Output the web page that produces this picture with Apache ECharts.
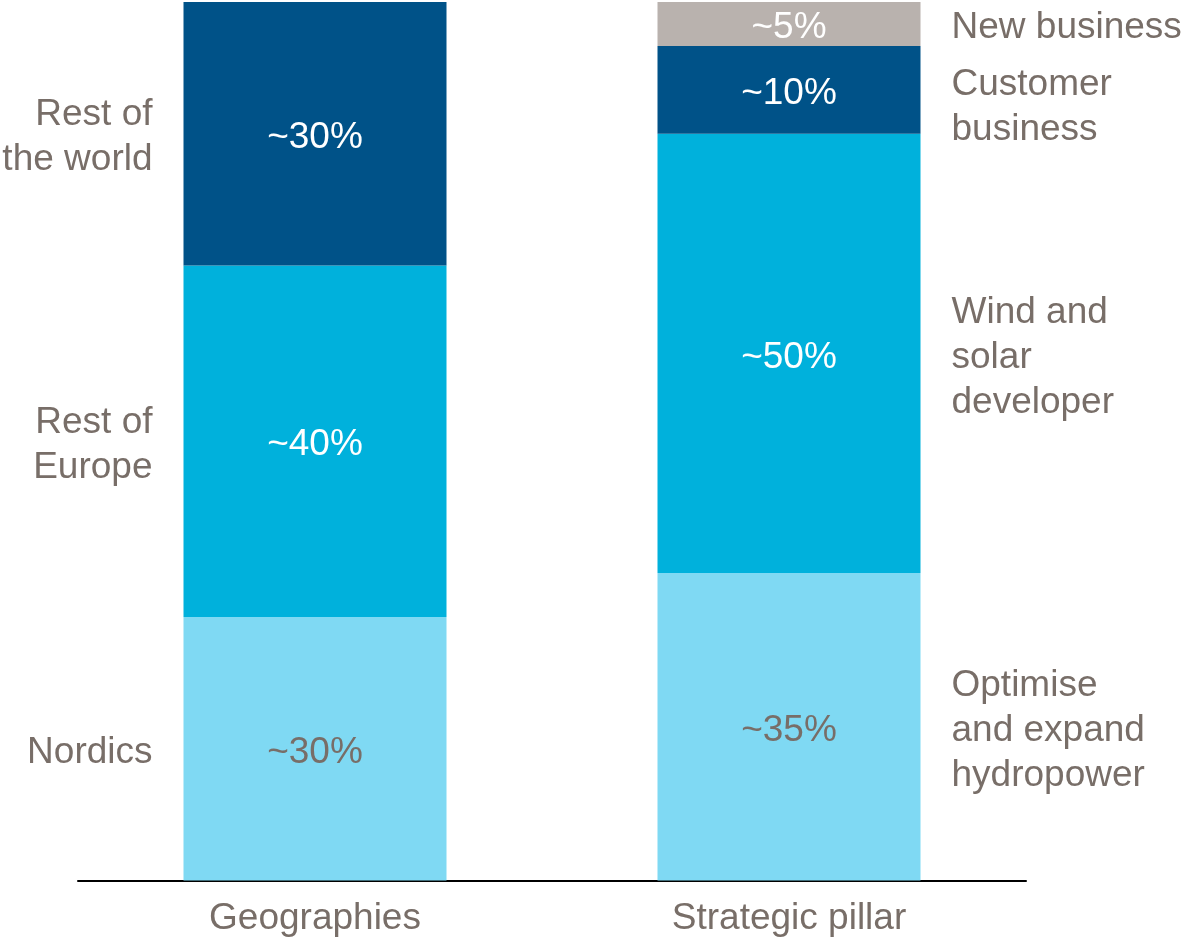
<!DOCTYPE html>
<html>
<head>
<meta charset="utf-8">
<script src="https://cdn.jsdelivr.net/npm/echarts@6/dist/echarts.min.js"></script>
<style>
  html, body { margin: 0; padding: 0; background: #ffffff; }
  #chart { width: 1184px; height: 937px; }
</style>
</head>
<body>
<div id="chart"></div>
<script>
// Two stacked 100% bars: geographic split and split by strategic pillar
const categories = ['Geographies', 'Strategic pillar'];

const geoNames = ['Nordics', 'Rest of\nEurope', 'Rest of\nthe world'];
const geoValues = [30, 40, 30];

const pillarNames = ['Optimise\nand expand\nhydropower', 'Wind and\nsolar\ndeveloper', 'Customer\nbusiness', 'New business'];
const pillarValues = [35, 50, 10, 5];

const lightBlue = '#7fd9f3';
const midBlue = '#00b1dc';
const darkBlue = '#005288';
const warmGrey = '#b9b2ae';
const textGrey = '#786e68';

const geoColors = [lightBlue, midBlue, darkBlue];
const geoLabelColors = [textGrey, '#ffffff', '#ffffff'];
const pillarColors = [lightBlue, midBlue, darkBlue, warmGrey];
const pillarLabelColors = [textGrey, '#ffffff', '#ffffff', '#ffffff'];

const FONT = '"Liberation Sans", Arial, sans-serif';
const FS = 37;
const DY = 4; // small downward nudge of every text block

function segSeries(name, value, catIndex, color, labelColor) {
  const data = categories.map((c, i) => (i === catIndex ? value : '-'));
  return {
    name: name,
    type: 'bar',
    stack: 'total',
    barWidth: 263,
    data: data,
    itemStyle: { color: color },
    label: {
      show: true,
      position: 'inside',
      offset: [0, DY],
      formatter: p => '~' + p.value + '%',
      color: labelColor,
      fontFamily: FONT,
      fontSize: FS
    },
    emphasis: { disabled: true }
  };
}

// midpoints of the stacked segments, used to place the side captions
function mids(values) {
  let acc = 0;
  return values.map(v => { const m = acc + v / 2; acc += v; return m; });
}

const series = [];
geoValues.forEach((v, i) => series.push(segSeries(geoNames[i], v, 0, geoColors[i], geoLabelColors[i])));
pillarValues.forEach((v, i) => series.push(segSeries(pillarNames[i], v, 1, pillarColors[i], pillarLabelColors[i])));

const geoMids = mids(geoValues);
const pillarMids = mids(pillarValues);

function captionLabel(position) {
  return {
    show: true,
    position: position,
    distance: 162,
    align: position === 'left' ? 'right' : 'left',
    verticalAlign: 'middle',
    offset: [0, DY],
    formatter: p => p.name,
    color: textGrey,
    opacity: 1,
    fontFamily: FONT,
    fontSize: FS,
    lineHeight: 45
  };
}

series.push({
  type: 'scatter',
  silent: true,
  symbolSize: 1,
  itemStyle: { color: 'rgba(0,0,0,0)', opacity: 1 },
  data: geoNames.map((n, i) => ({ name: n, value: [0, geoMids[i]] })),
  label: captionLabel('left'),
  emphasis: { disabled: true }
});

series.push({
  type: 'scatter',
  silent: true,
  symbolSize: 1,
  itemStyle: { color: 'rgba(0,0,0,0)', opacity: 1 },
  data: pillarNames.map((n, i) => ({
    name: n,
    value: [1, pillarMids[i]],
    label: n === 'Customer\nbusiness' ? { offset: [0, DY + 13] } : undefined
  })),
  label: captionLabel('right'),
  emphasis: { disabled: true }
});

const chart = echarts.init(document.getElementById('chart'), null, { renderer: 'canvas' });
chart.setOption({
  animation: false,
  backgroundColor: '#ffffff',
  grid: { left: 78, right: 158, top: 2, bottom: 55, containLabel: false },
  xAxis: {
    type: 'category',
    data: categories,
    axisTick: { show: false },
    axisLine: { show: true, lineStyle: { color: '#000000', width: 2 } },
    axisLabel: {
      color: textGrey,
      fontFamily: FONT,
      fontSize: FS,
      margin: 20,
      lineHeight: 36
    }
  },
  yAxis: {
    type: 'value',
    min: 0,
    max: 100,
    show: false,
    splitLine: { show: false }
  },
  series: series
});
</script>
</body>
</html>
